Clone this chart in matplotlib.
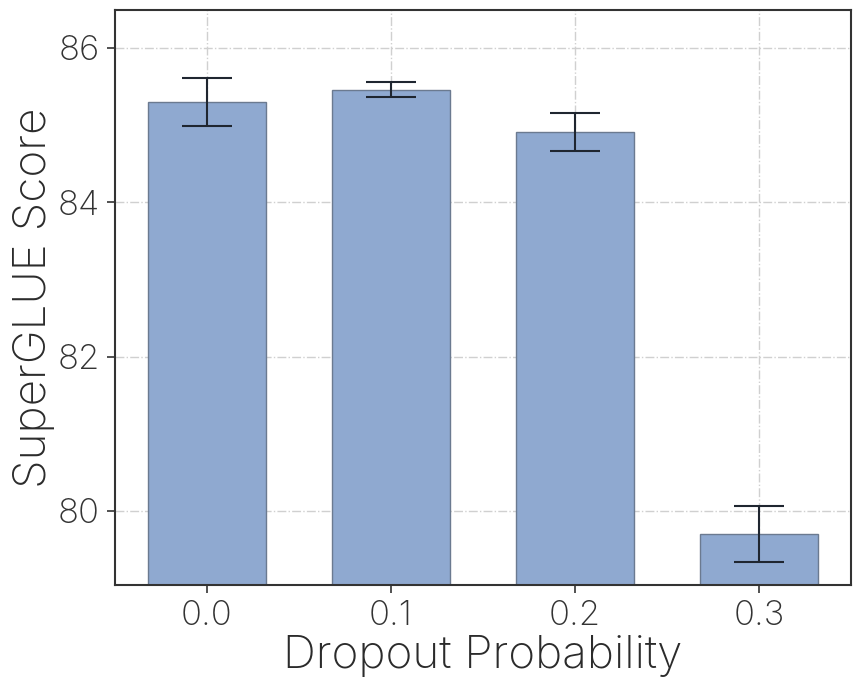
import matplotlib
matplotlib.use('Agg')
import matplotlib.pyplot as plt

dropout = ['0.0', '0.1', '0.2', '0.3']
scores = [85.30, 85.46, 84.91, 79.70]
errors = [0.31, 0.10, 0.25, 0.36]
yticks = [80, 82, 84, 86]

plt.rcParams['font.family'] = ['Inter', 'DejaVu Sans']
plt.rcParams['font.weight'] = 'light'

fig = plt.figure(figsize=(8.56, 6.81), dpi=100)
ax = fig.add_axes([0.1343, 0.141, 0.8599, 0.8443])

x = range(len(dropout))
ax.bar(x, scores, width=0.64, color='#8fa9d0', edgecolor='#6b7a90', linewidth=1.0,
       yerr=errors, capsize=18, error_kw={'elinewidth': 1.5, 'capthick': 1.5, 'ecolor': '#1f2630'},
       zorder=2)

ax.set_xlim(-0.5, 3.5)
ax.set_ylim(79.04, 86.49)
ax.set_xticks(list(x))
ax.set_xticklabels(dropout)
ax.set_yticks(yticks)
ax.grid(True, linestyle='-.', color='#d0d0d0', linewidth=1.0, zorder=0)
ax.set_axisbelow(True)

for s in ax.spines.values():
    s.set_color('#333333')
    s.set_linewidth(1.5)
ax.tick_params(axis='both', labelsize=25, colors='#333333', length=6, width=1.2, pad=5)
ax.set_xlabel('Dropout Probability', fontsize=33, color='#2b2b2b', labelpad=2, fontweight='light')
ax.set_ylabel('SuperGLUE Score', fontsize=33, color='#2b2b2b', labelpad=2, fontweight='light')

fig.savefig('out.png', dpi=100)
